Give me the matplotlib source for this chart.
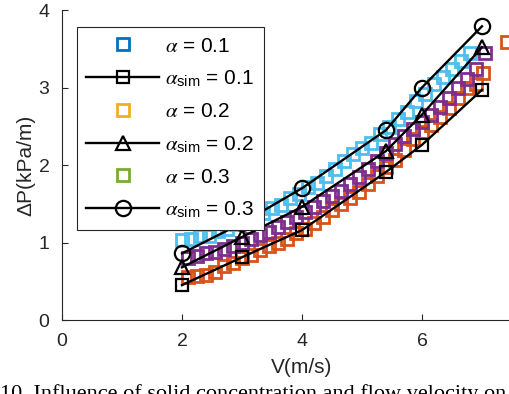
import matplotlib.pyplot as plt
from matplotlib.lines import Line2D

plt.rcParams['font.family'] = ['Liberation Sans', 'DejaVu Sans']
plt.rcParams['mathtext.fontset'] = 'custom'
plt.rcParams['mathtext.rm'] = 'Liberation Sans'
plt.rcParams['mathtext.it'] = 'STIXGeneral:italic'

# measured pressure drop, alpha = 0.1 (light blue)
v_a1 = [2.00, 2.15, 2.30, 2.45, 2.60, 2.75, 2.90, 3.05, 3.20, 3.35, 3.50, 3.65,
        3.80, 3.95, 4.10, 4.25, 4.40, 4.55, 4.70, 4.85, 5.00, 5.15, 5.30, 5.45,
        5.60, 5.75, 5.90, 6.05, 6.20, 6.35, 6.50, 6.65, 6.80]
dp_a1 = [1.03, 1.04, 1.08, 1.09, 1.15, 1.18, 1.24, 1.27, 1.33, 1.38, 1.44, 1.49,
         1.57, 1.62, 1.72, 1.77, 1.86, 1.95, 2.05, 2.14, 2.22, 2.29, 2.40, 2.49,
         2.60, 2.69, 2.82, 2.92, 3.04, 3.13, 3.24, 3.34, 3.45]

# measured pressure drop, alpha = 0.2 (orange)
v_a2 = [2.10, 2.25, 2.40, 2.55, 2.70, 2.85, 3.00, 3.15, 3.30, 3.45, 3.60, 3.75,
        3.90, 4.05, 4.20, 4.35, 4.50, 4.65, 4.80, 4.95, 5.10, 5.25, 5.40, 5.55,
        5.70, 5.85, 6.00, 6.15, 6.30, 6.45, 6.60, 6.75, 6.90, 7.02, 7.42]
dp_a2 = [0.56, 0.57, 0.58, 0.62, 0.70, 0.74, 0.80, 0.84, 0.90, 0.95, 1.00, 1.05,
         1.12, 1.18, 1.25, 1.33, 1.42, 1.50, 1.57, 1.65, 1.76, 1.86, 1.97, 2.07,
         2.20, 2.33, 2.42, 2.52, 2.62, 2.74, 2.86, 2.99, 3.05, 3.19, 3.59]

# measured pressure drop, alpha = 0.3 (purple)
v_a3 = [2.10, 2.25, 2.40, 2.55, 2.70, 2.85, 3.00, 3.15, 3.30, 3.45, 3.60, 3.75,
        3.90, 4.05, 4.20, 4.35, 4.50, 4.65, 4.80, 4.95, 5.10, 5.25, 5.40, 5.55,
        5.70, 5.85, 6.00, 6.15, 6.30, 6.45, 6.60, 6.75, 6.90, 7.05]
dp_a3 = [0.80, 0.82, 0.86, 0.88, 0.92, 0.95, 1.00, 1.05, 1.10, 1.14, 1.20, 1.27,
         1.33, 1.40, 1.46, 1.53, 1.60, 1.67, 1.76, 1.85, 1.95, 2.05, 2.16, 2.27,
         2.38, 2.47, 2.56, 2.65, 2.75, 2.87, 2.99, 3.11, 3.24, 3.44]

# simulation results
v_sim = [2, 3, 4, 5.4, 6, 7]
dp_sim1 = [0.45, 0.81, 1.16, 1.91, 2.26, 2.97]
dp_sim2 = [0.68, 1.07, 1.46, 2.18, 2.65, 3.52]
dp_sim3 = [0.86, 1.25, 1.70, 2.45, 3.00, 3.79]

fig = plt.figure(figsize=(5.09, 3.94), dpi=100)
ax = fig.add_axes([0.1218, 0.1878, 0.943, 0.7868])

sq = dict(marker='s', linestyle='none', markersize=8.5, markerfacecolor='none',
          markeredgewidth=2.0)
ax.plot(v_a1, dp_a1, markeredgecolor='#4DBEEE', **sq)
ax.plot(v_a2, dp_a2, markeredgecolor='#D95319', **sq)
ax.plot(v_a3, dp_a3, markeredgecolor='#7E2F8E', **sq)

sim = dict(color='black', linewidth=1.7, markerfacecolor='none',
           markeredgewidth=1.6)
l1, = ax.plot(v_sim, dp_sim1, marker='s', markersize=8.5, **sim)
l2, = ax.plot(v_sim, dp_sim2, marker='^', markersize=10, **sim)
l3, = ax.plot(v_sim, dp_sim3, marker='o', markersize=11, **sim)

ax.set_xlim(0, 8)
ax.set_ylim(0, 4)
ax.set_xticks([0, 2, 4, 6])
ax.set_yticks([0, 1, 2, 3, 4])
ax.tick_params(direction='in', length=4, width=0.8, colors='#262626',
               labelsize=14)
ax.tick_params(axis='x', pad=9)
ax.tick_params(axis='y', pad=9)
for s in ['top', 'right']:
    ax.spines[s].set_visible(False)
for s in ['left', 'bottom']:
    ax.spines[s].set_color('#262626')
    ax.spines[s].set_linewidth(0.8)

ax.set_xlabel('V(m/s)', fontsize=15, color='#262626', labelpad=6)
ax.set_ylabel('ΔP(kPa/m)', fontsize=15, color='#262626', labelpad=2)

# legend proxies use the default colour order
p1 = Line2D([], [], markeredgecolor='#0072BD', **sq)
p2 = Line2D([], [], markeredgecolor='#EDB120', **sq)
p3 = Line2D([], [], markeredgecolor='#77AC30', **sq)
leg = fig.legend([p1, l1, p2, l2, p3, l3],
                 [r'$\alpha$ = 0.1', r'$\alpha_{\mathrm{sim}}$ = 0.1',
                  r'$\alpha$ = 0.2', r'$\alpha_{\mathrm{sim}}$ = 0.2',
                  r'$\alpha$ = 0.3', r'$\alpha_{\mathrm{sim}}$ = 0.3'],
                 loc='upper left', bbox_to_anchor=(0.151, 0.931),
                 fontsize=15, handlelength=3.5, labelspacing=0.62,
                 handletextpad=0.3, borderpad=0.45, borderaxespad=0,
                 fancybox=False, framealpha=1, edgecolor='#262626')
leg.get_frame().set_linewidth(0.8)

fig.text(0.0, 0.026, '10. Influence of solid concentration and flow velocity on',
         fontsize=16, family='Liberation Serif', va='top', ha='left')

fig.savefig('out.png', dpi=100)
